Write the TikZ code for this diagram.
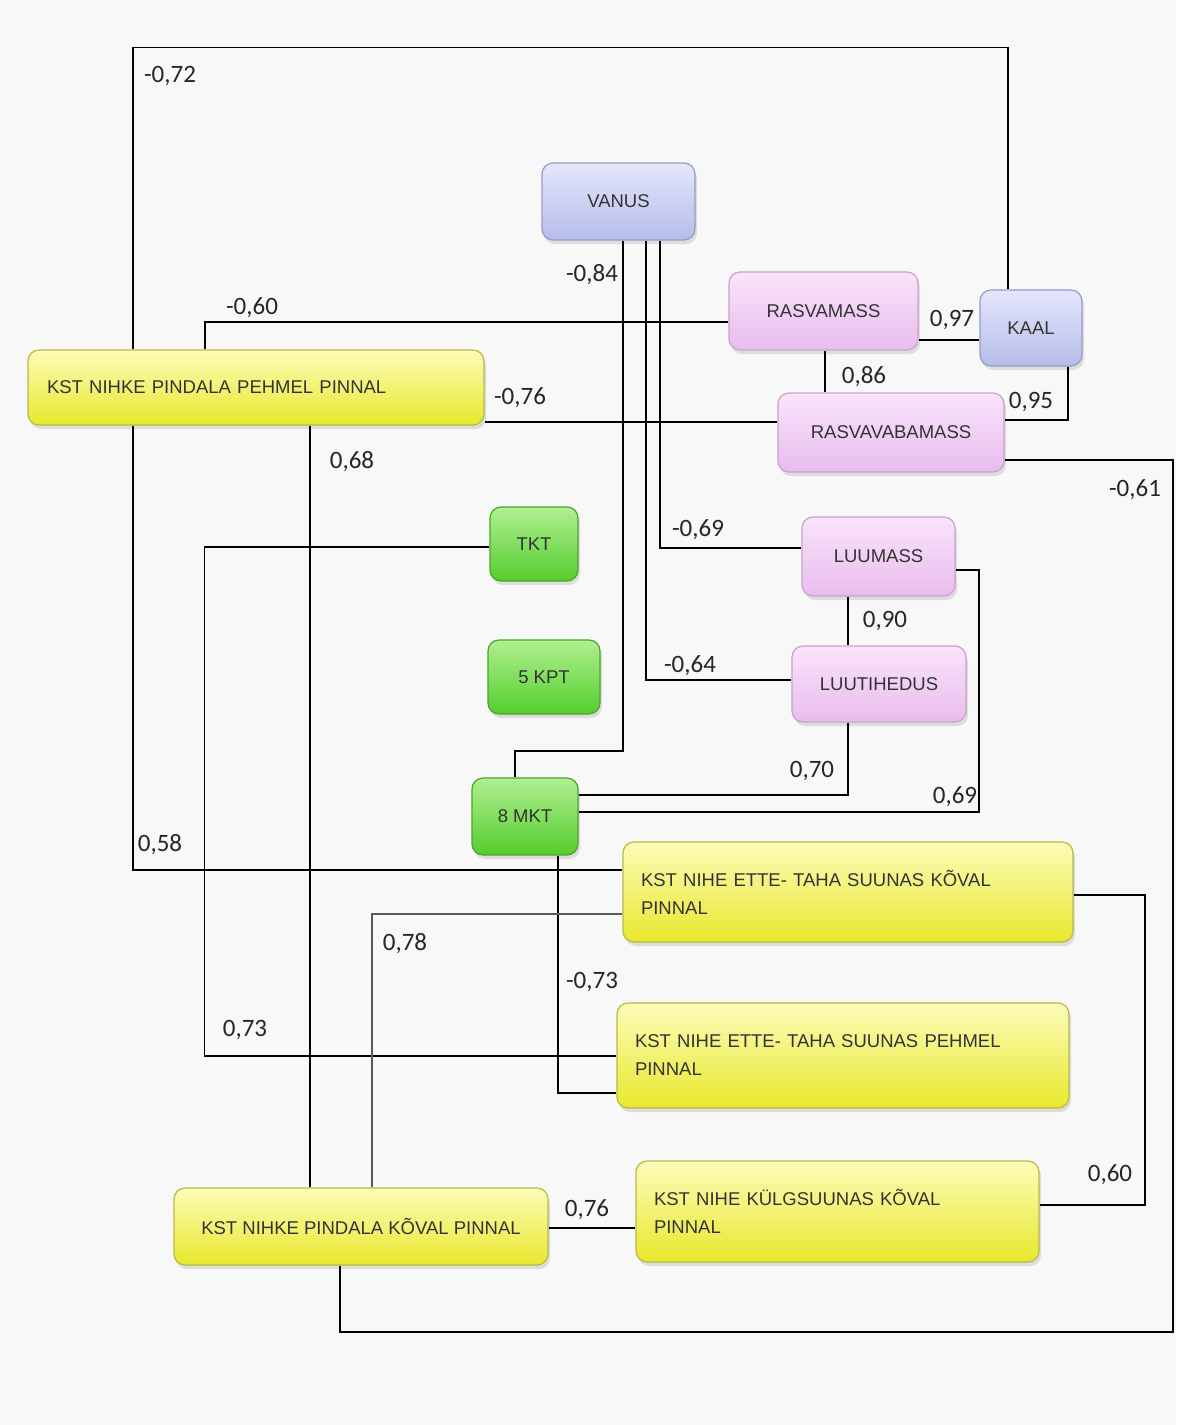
\documentclass[tikz,border=0pt]{standalone}
\usepackage{fontspec}
\setmainfont{Liberation Sans}
\newfontfamily\numfont{Carlito}
\usetikzlibrary{shadows}
\definecolor{bgc}{RGB}{248,248,248}
\definecolor{ytop}{RGB}{252,252,185}
\definecolor{ybot}{RGB}{232,232,45}
\definecolor{ydraw}{RGB}{185,185,70}
\definecolor{gtop}{RGB}{175,240,145}
\definecolor{gbot}{RGB}{85,205,45}
\definecolor{gdraw}{RGB}{75,165,45}
\definecolor{ptop}{RGB}{250,228,250}
\definecolor{pbot}{RGB}{232,188,238}
\definecolor{pdraw}{RGB}{200,162,205}
\definecolor{btop}{RGB}{228,231,250}
\definecolor{bbot}{RGB}{182,188,234}
\definecolor{bdraw}{RGB}{150,156,200}
\begin{document}
\begin{tikzpicture}[x=1pt,y=-1pt,
  conn/.style={line width=1.8pt, black},
  thinconn/.style={line width=1.4pt, black!65},
  num/.style={font=\numfont\fontsize{25}{25}\selectfont, inner sep=0pt, text=black!85},
  basebox/.style={rounded corners=11pt, line width=1.2pt, inner sep=0pt,
    font=\fontsize{18.5}{28}\selectfont, text=black!80,
    drop shadow={opacity=0.22, shadow xshift=2pt, shadow yshift=-4pt}},
  ybox/.style={basebox, draw=ydraw, top color=ytop, bottom color=ybot},
  gbox/.style={basebox, draw=gdraw, top color=gtop, bottom color=gbot},
  pbox/.style={basebox, draw=pdraw, top color=ptop, bottom color=pbot},
  bbox/.style={basebox, draw=bdraw, top color=btop, bottom color=bbot}
]
\fill[bgc] (0,0) rectangle (1176,1425);
\useasboundingbox (0,0) rectangle (1176,1425);

% nodes
\node[bbox, minimum width=153pt, minimum height=77pt] (vanus) at (618.5,201.5) {VANUS};
\node[pbox, minimum width=189pt, minimum height=78pt] (rasvamass) at (823.5,311) {RASVAMASS};
\node[bbox, minimum width=102pt, minimum height=76pt] (kaal) at (1031,328) {KAAL};
\node[pbox, minimum width=226pt, minimum height=79pt] (rvb) at (891,432.5) {RASVAVABAMASS};
\node[ybox, minimum width=456pt, minimum height=75pt, text width=418pt, align=left] (pehmel) at (256,387.5) {KST NIHKE PINDALA PEHMEL PINNAL};
\node[gbox, minimum width=88pt, minimum height=74pt] (tkt) at (534,544) {TKT};
\node[gbox, minimum width=112pt, minimum height=74pt] (kpt) at (544,677) {5 KPT};
\node[pbox, minimum width=153pt, minimum height=79pt] (luumass) at (878.5,556.5) {LUUMASS};
\node[pbox, minimum width=174pt, minimum height=76pt] (luutihedus) at (879,684) {LUUTIHEDUS};
\node[gbox, minimum width=106pt, minimum height=77pt] (mkt) at (525,816.5) {8 MKT};
\node[ybox, minimum width=450pt, minimum height=100pt, text width=414pt, align=left] (ettekov) at (848,892) {KST NIHE ETTE- TAHA SUUNAS KÕVAL\\PINNAL};
\node[ybox, minimum width=452pt, minimum height=105pt, text width=416pt, align=left] (ettepeh) at (843,1055.5) {KST NIHE ETTE- TAHA SUUNAS PEHMEL\\PINNAL};
\node[ybox, minimum width=403pt, minimum height=101pt, text width=367pt, align=left] (kulg) at (837.5,1211.5) {KST NIHE KÜLGSUUNAS KÕVAL\\PINNAL};
\node[ybox, minimum width=374pt, minimum height=77pt] (pindkov) at (361,1226.5) {KST NIHKE PINDALA KÕVAL PINNAL};

% connectors
\draw[conn] ([xshift=-23pt]kaal.north) -- ++(0,-242) -| ([xshift=-123pt]pehmel.north);
\draw[conn] ([xshift=-123pt]pehmel.south) |- ([yshift=22pt]ettekov.west);
\draw[conn] ([yshift=-11pt]rasvamass.west) -| ([xshift=-51pt]pehmel.north);
\draw[conn] ([yshift=-34.5pt]pehmel.east) -- ([yshift=10.5pt]rvb.west);
\draw[conn] ([xshift=54pt]pehmel.south) -- ([xshift=-51pt]pindkov.north);
\draw[conn] ([xshift=4.5pt]vanus.south) -- ++(0,510) -| ([xshift=-10pt]mkt.north);
\draw[conn] ([xshift=27.5pt]vanus.south) |- ([yshift=4pt]luutihedus.west);
\draw[conn] ([xshift=41.5pt]vanus.south) |- ([yshift=8.5pt]luumass.west);
\draw[conn] ([yshift=-29pt]rasvamass.east) -- ([yshift=-12pt]kaal.west);
\draw[conn] ([xshift=1.5pt]rasvamass.south) -- ([xshift=-66pt]rvb.north);
\draw[conn] ([xshift=37pt]kaal.south) |- ([yshift=12.5pt]rvb.east);
\draw[conn] ([yshift=-27.5pt]rvb.east) -- ++(168,0) -- ++(0,872) -| ([xshift=-21pt]pindkov.south);
\draw[conn] ([xshift=-30.5pt]luumass.south) -- ([xshift=-31pt]luutihedus.north);
\draw[conn] ([xshift=-31pt]luutihedus.south) |- ([yshift=21.5pt]mkt.east);
\draw[conn] ([yshift=-13.5pt]luumass.east) -- ++(23,0) |- ([yshift=4.5pt]mkt.east);
\draw[conn] ([xshift=33pt]mkt.south) |- ([yshift=-37.5pt]ettepeh.west);
\draw[conn] ([yshift=-3pt]tkt.west) -- ++(-285,0) |- ([yshift=-0.5pt]ettepeh.west);
\draw[thinconn] ([yshift=-22pt]ettekov.west) -| ([xshift=11pt]pindkov.north);
\draw[conn] ([yshift=-3pt]ettekov.east) -- ++(71,0) |- ([yshift=6.5pt]kulg.east);
\draw[conn] ([yshift=-1.5pt]pindkov.east) -- ([yshift=-16.5pt]kulg.west);

% labels
\node[num] (l1) at (170,76) {-0,72};
\node[num] (l2) at (252,308) {-0,60};
\node[num] (l3) at (592,275) {-0,84};
\node[num] (l4) at (520,398) {-0,76};
\node[num] (l5) at (352,462) {0,68};
\node[num] (l6) at (952,320) {0,97};
\node[num] (l7) at (864,377) {0,86};
\node[num] (l8) at (1031,402) {0,95};
\node[num] (l9) at (1135,490) {-0,61};
\node[num] (l10) at (698,530) {-0,69};
\node[num] (l11) at (885,621) {0,90};
\node[num] (l12) at (690,666) {-0,64};
\node[num] (l13) at (812,771) {0,70};
\node[num] (l14) at (955,797) {0,69};
\node[num] (l15) at (160,845) {0,58};
\node[num] (l16) at (405,944) {0,78};
\node[num] (l17) at (592,982) {-0,73};
\node[num] (l18) at (245,1030) {0,73};
\node[num] (l19) at (1110,1175) {0,60};
\node[num] (l20) at (587,1210) {0,76};
\end{tikzpicture}
\end{document}
